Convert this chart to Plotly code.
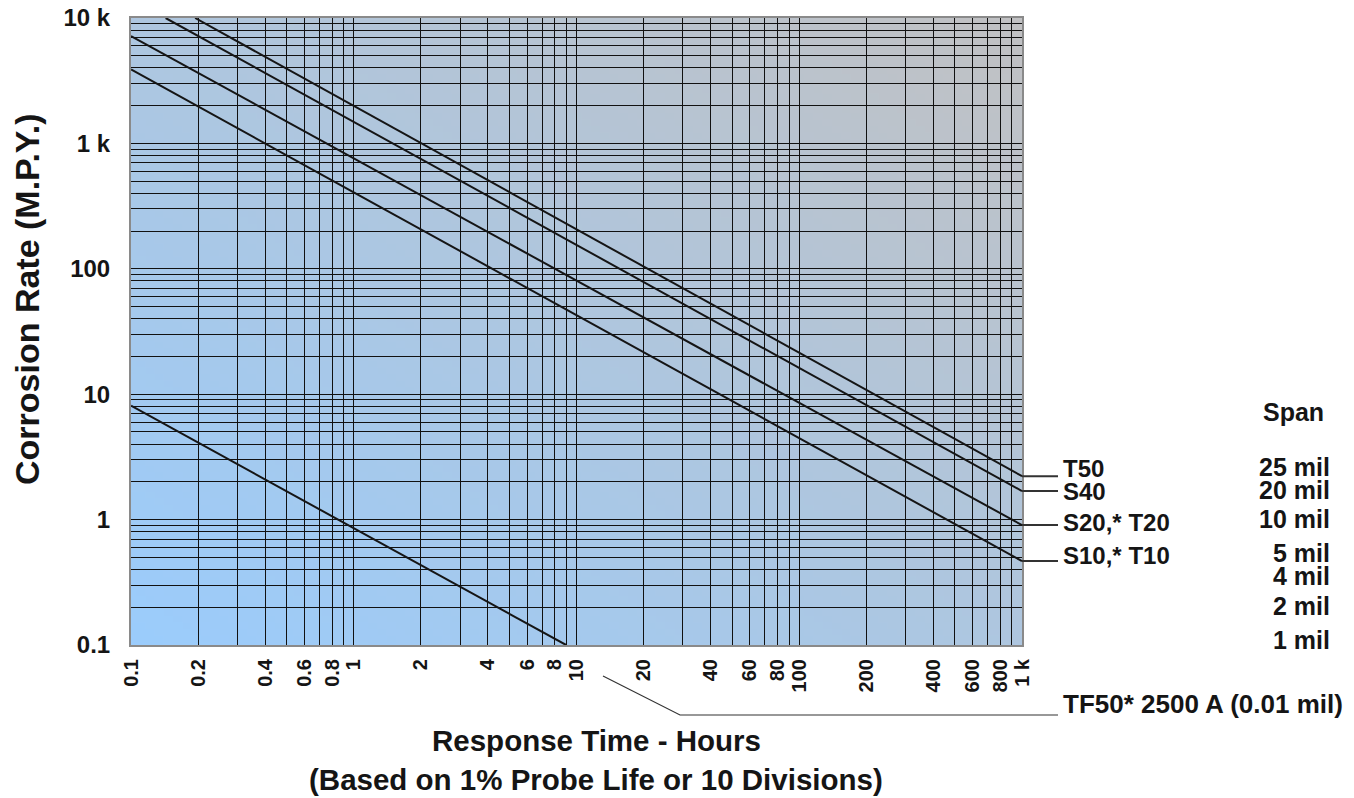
import base64
import math
import struct
import zlib
import plotly.graph_objects as go

# ---------------- data ----------------
x_tick_values = [0.1, 0.2, 0.4, 0.6, 0.8, 1, 2, 4, 6, 8, 10, 20, 40, 60, 80,
                 100, 200, 400, 600, 800, 1000]
x_tick_labels = ["0.1", "0.2", "0.4", "0.6", "0.8", "1", "2", "4", "6", "8",
                 "10", "20", "40", "60", "80", "100", "200", "400", "600",
                 "800", "1 k"]
y_tick_values = [0.1, 1, 10, 100, 1000, 10000]
y_tick_labels = ["0.1", "1", "10", "100", "1 k", "10 k"]

series_names = ["T50", "S40", "S20,* T20", "S10,* T10"]
t50_x = [0.194, 1000]
t50_y = [10000, 2.22]
s40_x = [0.143, 1000]
s40_y = [10000, 1.69]
s20_x = [0.1, 1000]
s20_y = [7175, 0.904]
s10_x = [0.1, 1000]
s10_y = [3890, 0.467]

tf50_name = "TF50* 2500 A (0.01 mil)"
tf50_x = [0.1, 8.98]
tf50_y = [8.1, 0.1]

span_header = "Span"
span_labels = ["25 mil", "20 mil", "10 mil", "5 mil", "4 mil", "2 mil", "1 mil"]

x_title = "Response Time - Hours"
x_subtitle = "(Based on 1% Probe Life or 10 Divisions)"
y_title = "Corrosion Rate (M.P.Y.)"

# ---------------- layout helpers ----------------
W, H = 1354, 798
L, R, T, B = 131, 1022, 18, 645   # plot area in page pixels
PW, PH = R - L, B - T


def px(x):
    return (x - L) / PW


def py(y):
    return (B - y) / PH


FONT = "Liberation Sans, Arial, sans-serif"
INK = "#151515"


def gradient_png(w, h, c0, c1):
    rows = []
    for j in range(h):
        v = j / (h - 1)
        row = bytearray([0])
        for i in range(w):
            u = i / (w - 1)
            t = (u + (1 - v)) / 2
            row += bytes(int(round(c0[k] + (c1[k] - c0[k]) * t)) for k in range(3))
        rows.append(bytes(row))
    raw = b"".join(rows)

    def chunk(tag, data):
        return (struct.pack(">I", len(data)) + tag + data +
                struct.pack(">I", zlib.crc32(tag + data) & 0xFFFFFFFF))

    png = (b"\x89PNG\r\n\x1a\n" +
           chunk(b"IHDR", struct.pack(">IIBBBBB", w, h, 8, 2, 0, 0, 0)) +
           chunk(b"IDAT", zlib.compress(raw, 9)) + chunk(b"IEND", b""))
    return "data:image/png;base64," + base64.b64encode(png).decode()


bg = gradient_png(96, 96, (155, 204, 252), (193, 193, 195))

fig = go.Figure()

lines_x = [t50_x, s40_x, s20_x, s10_x, tf50_x]
lines_y = [t50_y, s40_y, s20_y, s10_y, tf50_y]
names = series_names + [tf50_name]
for xs, ys, nm in zip(lines_x, lines_y, names):
    fig.add_trace(go.Scatter(x=xs, y=ys, mode="lines", name=nm,
                             line=dict(color=INK, width=2), hoverinfo="x+y+name"))

grid_x = [m * 10 ** e for e in range(-1, 3) for m in range(1, 10)] + [1000]
grid_y = [m * 10 ** e for e in range(-1, 4) for m in range(1, 10)] + [10000]

shapes = []
annotations = []

# connectors + series labels at right
label_shift = [8, 0, 3, 6]
for nm, ys, sh in zip(series_names, [t50_y, s40_y, s20_y, s10_y], label_shift):
    shapes.append(dict(type="line", xref="paper", yref="y", x0=1.0, x1=px(1058),
                       y0=ys[-1], y1=ys[-1], line=dict(color="#333", width=2)))
    annotations.append(dict(text=nm, xref="paper", yref="y", x=px(1061),
                            y=math.log10(ys[-1]),
                            xanchor="left", yanchor="middle", yshift=sh, showarrow=False,
                            font=dict(family=FONT, size=24, color=INK, weight="bold")))

# span column
annotations.append(dict(text=span_header, xref="paper", yref="paper", x=px(1326), y=py(412),
                        xanchor="right", yanchor="middle", showarrow=False,
                        font=dict(family=FONT, size=25, color=INK, weight="bold")))
span_pos = [467, 490, 519, 553, 576, 606, 640]
for lab, yp in zip(span_labels, span_pos):
    annotations.append(dict(text=lab, xref="paper", yref="paper", x=px(1332), y=py(yp),
                            xanchor="right", yanchor="middle", showarrow=False,
                            font=dict(family=FONT, size=25, color=INK, weight="bold")))

# TF50 leader + label
shapes.append(dict(type="path", xref="paper", yref="paper",
                   path=f"M {px(603)} {py(676)} L {px(680)} {py(715)} L {px(1058)} {py(715)}",
                   line=dict(color="#333", width=1.2)))
annotations.append(dict(text=tf50_name, xref="paper", yref="paper", x=px(1061), y=py(704),
                        xanchor="left", yanchor="middle", showarrow=False,
                        font=dict(family=FONT, size=26, color=INK, weight="bold")))

# axis titles
annotations.append(dict(text=x_title, xref="paper", yref="paper", x=px(596), y=py(740),
                        xanchor="center", yanchor="middle", showarrow=False,
                        font=dict(family=FONT, size=29.5, color=INK, weight="bold")))
annotations.append(dict(text=x_subtitle, xref="paper", yref="paper", x=px(596), y=py(780),
                        xanchor="center", yanchor="middle", showarrow=False,
                        font=dict(family=FONT, size=29.5, color=INK, weight="bold")))
annotations.append(dict(text=y_title, xref="paper", yref="paper", x=px(27), y=py(299),
                        xanchor="center", yanchor="middle", textangle=-90, showarrow=False,
                        font=dict(family=FONT, size=34, color=INK, weight="bold")))

fig.update_layout(
    width=W, height=H,
    margin=dict(l=L, r=W - R, t=T, b=H - B, pad=0, autoexpand=False),
    paper_bgcolor="white",
    plot_bgcolor="rgba(0,0,0,0)",
    showlegend=False,
    shapes=shapes,
    annotations=annotations,
    images=[dict(source=bg, xref="paper", yref="paper", x=0, y=1, sizex=1, sizey=1,
                 sizing="stretch", xanchor="left", yanchor="top", layer="below")],
    xaxis=dict(type="log", range=[-1, 3], tickvals=x_tick_values, ticktext=x_tick_labels,
               tickangle=-90, ticks="", ticklabelstandoff=4, ticklabeloverflow="allow",
               automargin=False,
               tickfont=dict(family=FONT, size=20, color=INK, weight="bold"),
               showgrid=True, gridcolor="#111", gridwidth=1,
               minor=dict(tickvals=grid_x, showgrid=True, gridcolor="#111", gridwidth=1, ticks=""),
               showline=True, linecolor="#8a8a8a", linewidth=2, mirror=True, zeroline=False),
    yaxis=dict(type="log", range=[-1, 4], tickvals=y_tick_values, ticktext=y_tick_labels,
               ticks="", ticklabelstandoff=14, ticklabeloverflow="allow",
               automargin=False,
               tickfont=dict(family=FONT, size=24, color=INK, weight="bold"),
               showgrid=True, gridcolor="#111", gridwidth=1,
               minor=dict(tickvals=grid_y, showgrid=True, gridcolor="#111", gridwidth=1, ticks=""),
               showline=True, linecolor="#8a8a8a", linewidth=2, mirror=True, zeroline=False),
)

# the page's default body margin would offset the figure; remove it
fig.write_html("out.html",
               config={"displayModeBar": False},
               post_script="document.body.style.margin='0';document.body.style.overflow='hidden';")
